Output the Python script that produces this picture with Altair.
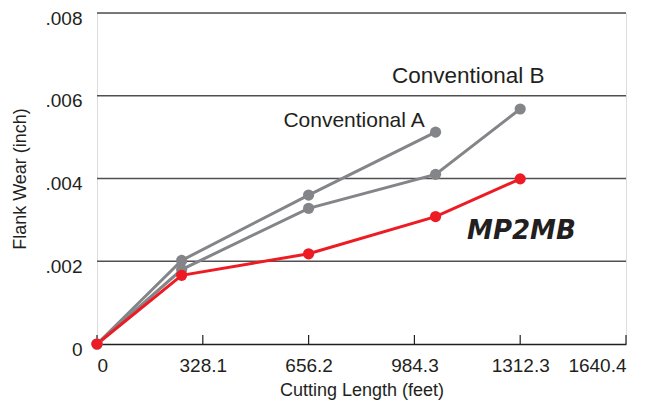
import altair as alt
import pandas as pd

# data
x_feet = [0, 262.5, 656.2, 1049.9, 1312.3]
conv_a = [0.0, 0.00202, 0.0036, 0.00512, None]
conv_b = [0.0, 0.0018, 0.00328, 0.0041, 0.00568]
mp2mb = [0.0, 0.00166, 0.00218, 0.00308, 0.00399]
x_ticks = [0, 328.1, 656.2, 984.3, 1312.3, 1640.4]
y_ticks = [0, 0.002, 0.004, 0.006, 0.008]
series_names = ["Conventional A", "Conventional B", "MP2MB"]

rows = []
for order, (name, vals) in enumerate(zip(series_names, [conv_a, conv_b, mp2mb])):
    for x, y in zip(x_feet, vals):
        if y is not None:
            rows.append({"series": name, "x": x, "y": y, "order": order})
df = pd.DataFrame(rows)

W, H = 529, 331
FONT = "Liberation Sans"
TXT = "#231F20"
xs = alt.Scale(domain=[0, 1640.4], nice=False, zero=False)
ys = alt.Scale(domain=[0, 0.008], nice=False)

color = alt.Color("series:N", scale=alt.Scale(
    domain=series_names, range=["#838588", "#838588", "#ED1C24"]), legend=None)

grid = alt.Chart(pd.DataFrame({"y": y_ticks[1:]})).mark_rule(
    color="#505050", strokeWidth=1.3).encode(
    y=alt.Y("y:Q", scale=ys,
            axis=alt.Axis(values=y_ticks, title="Flank Wear (inch)",
                          labelExpr="datum.value == 0 ? '0' : replace(format(datum.value, '.3f'), '0.', '.')",
                          domain=False, ticks=False, grid=False, labelFontSize=19,
                          labelColor=TXT, labelPadding=15, labelOffset=5,
                          labelBaseline="middle",
                          titleFontSize=18, titleFontWeight="normal", titleColor=TXT,
                          titlePadding=16, labelFont=FONT, titleFont=FONT)),
)

xticks = alt.Chart(pd.DataFrame({"x": x_ticks})).mark_rule(
    color=TXT, strokeWidth=1.2).encode(
    x=alt.X("x:Q", scale=xs,
            axis=alt.Axis(values=x_ticks, title="Cutting Length (feet)",
                          labelExpr="datum.value == 0 ? '0' : format(datum.value, '.1f')",
                          domain=True, domainColor=TXT, domainWidth=1.5,
                          ticks=False, grid=False, labelFontSize=19, labelColor=TXT,
                          labelPadding=12, titleFontSize=18, titleFontWeight="normal",
                          titleColor=TXT, titlePadding=6,
                          labelFont=FONT, titleFont=FONT)),
    y=alt.value(H), y2=alt.value(H - 9),
)

lines = alt.Chart(df).mark_line(strokeWidth=3).encode(
    x=alt.X("x:Q", scale=xs), y=alt.Y("y:Q", scale=ys), color=color,
    detail="series:N", order="x:Q")
points = alt.Chart(df).mark_circle(size=125, opacity=1).encode(
    x=alt.X("x:Q", scale=xs), y=alt.Y("y:Q", scale=ys), color=color,
    order="order:Q")

label_a = alt.Chart(pd.DataFrame({"text": ["Conventional A"], "x": [797], "y": [0.00540]})).mark_text(
    fontSize=21, font=FONT, color=TXT).encode(
    x=alt.X("x:Q", scale=xs), y=alt.Y("y:Q", scale=ys), text="text:N")
label_b = alt.Chart(pd.DataFrame({"text": ["Conventional B"], "x": [1151], "y": [0.00648]})).mark_text(
    fontSize=22.5, font=FONT, color=TXT).encode(
    x=alt.X("x:Q", scale=xs), y=alt.Y("y:Q", scale=ys), text="text:N")

logo = alt.Chart(pd.DataFrame({"text": ["MP2MB"], "x": [1316], "y": [0.00274]})).mark_text(
    fontSize=26, font="DejaVu Sans", fontWeight="bold", fontStyle="italic",
    color=TXT).encode(
    x=alt.X("x:Q", scale=xs), y=alt.Y("y:Q", scale=ys), text="text:N")

chart = alt.layer(grid, xticks, lines, points, label_a, label_b, logo).properties(
    width=W, height=H,
    autosize=alt.AutoSizeParams(type="none"),
    padding={"left": 89, "top": 5, "right": 23, "bottom": 60},
).configure_view(stroke=None).configure(background="white")

chart.save("out.html", embed_options={"renderer": "svg", "actions": False})
